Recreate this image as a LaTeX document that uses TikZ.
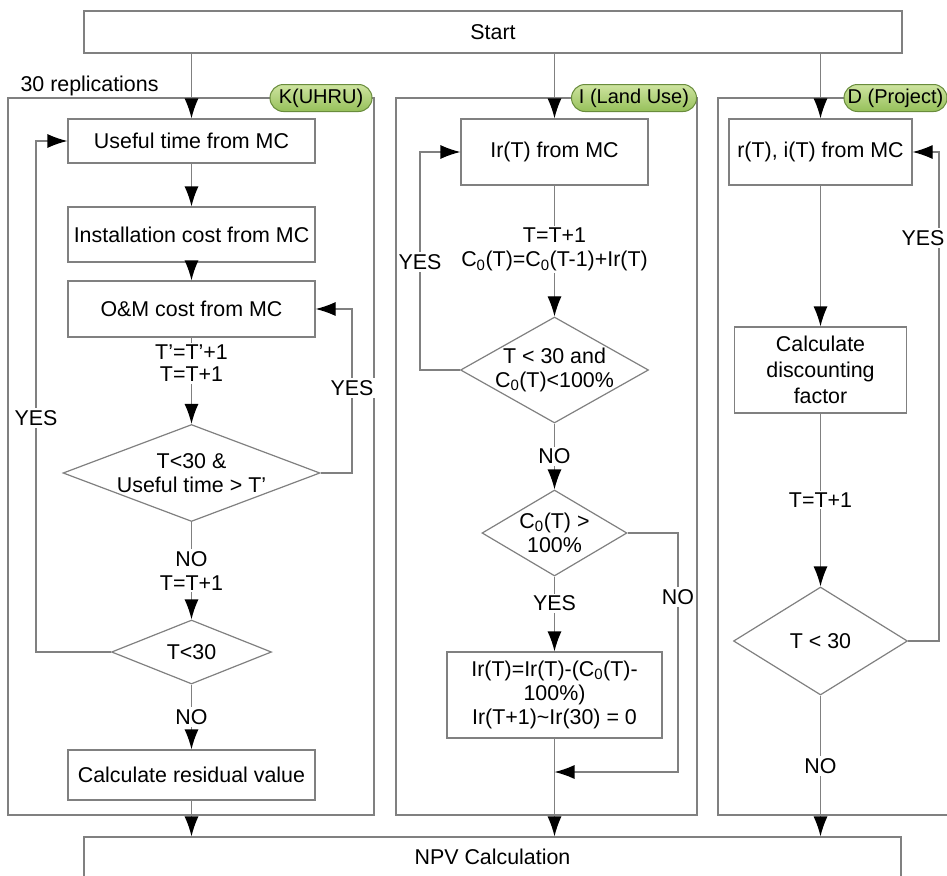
\documentclass[tikz,border=0pt]{standalone}
\usepackage{fontspec}
\setmainfont{Liberation Sans}
\usetikzlibrary{shapes.geometric,arrows.meta}
\definecolor{linegray}{RGB}{128,128,128}
\definecolor{pilltop}{RGB}{206,228,160}
\definecolor{pillbot}{RGB}{150,192,90}
\definecolor{pillline}{RGB}{105,140,60}

\begin{document}
\begin{tikzpicture}[x=1pt,y=-1pt,font=\fontsize{21.4pt}{24pt}\selectfont]
    \tikzstyle{box}=[rectangle,draw=linegray,line width=1.2pt,fill=white,align=center,inner sep=0pt]
    \tikzstyle{decision}=[diamond,draw=linegray,line width=1.2pt,fill=white,align=center,inner sep=-3pt]
    \tikzstyle{frame}=[draw=linegray,line width=1.2pt]
    \tikzstyle{pill}=[rectangle,rounded corners=13.5pt,draw=pillline,line width=1pt,top color=pilltop,bottom color=pillbot,minimum height=27pt,inner sep=0pt,font=\fontsize{20pt}{24pt}\selectfont]
    \tikzstyle{arr}=[draw=linegray,line width=1.2pt,-{Latex[length=20pt,width=14pt,color=black]}]
    \tikzstyle{lbl}=[fill=white,align=center,inner sep=2pt]

    \useasboundingbox (0,0) rectangle (947,875);
    \clip (0,0) rectangle (947,875);

    % the three sub-models
    \foreach \l/\r in {8/374, 396/697, 718/962}
        \draw[frame] (\l,98) rectangle (\r,815);
    \foreach \name/\x/\w/\txt in {K/321/102/{K(UHRU)}, I/634/125/{I (Land Use)}, D/895.5/103/{D (Project)}}
        \node[pill,minimum width=\w pt] (tag-\name) at (\x,98) {\txt};
    \node[anchor=west] (reps) at (17,86) {30 replications};

    \node[box,minimum width=818pt,minimum height=42pt] (start) at (493,32) {Start};
    \node[box,minimum width=817pt,minimum height=40pt] (npv) at (492.5,857) {NPV Calculation};

    % K column
    \node[box,minimum width=247pt,minimum height=44pt] (useful) at (191.5,141) {Useful time from MC};
    \node[box,minimum width=247pt,minimum height=55pt] (install) at (191.5,234.5) {Installation cost from MC};
    \node[box,minimum width=247pt,minimum height=56pt] (om) at (191.5,309) {O\&M cost from MC};
    \node[decision,aspect=2.65,minimum width=257pt,minimum height=97pt] (kcheck) at (191.5,473) {T<30 \&\\Useful time > T'};
    \node[decision,aspect=2.5,minimum width=160pt,minimum height=64pt] (kend) at (191.5,652) {T<30};
    \node[box,minimum width=247pt,minimum height=50pt] (resid) at (191.5,775) {Calculate residual value};

    % I column
    \node[box,minimum width=187pt,minimum height=66pt] (irmc) at (554.5,152) {Ir(T) from MC};
    \node[decision,aspect=1.77,minimum width=188pt,minimum height=106pt] (icheck) at (554.5,370) {T < 30 and\\C\textsubscript{0}(T)<100\%};
    \node[decision,aspect=1.69,minimum width=145pt,minimum height=86pt] (iover) at (554.5,533) {C\textsubscript{0}(T) >\\100\%};
    \node[box,minimum width=215pt,minimum height=86pt] (icut) at (554.5,695) {Ir(T)=Ir(T)-(C\textsubscript{0}(T)-\\100\%)\\Ir(T+1)\textasciitilde Ir(30) = 0};
    \coordinate (imerge) at (554.5,772);

    % D column
    \node[box,minimum width=183pt,minimum height=66pt] (rimc) at (820.5,152) {r(T), i(T) from MC};
    \node[box,minimum width=172pt,minimum height=86pt,font=\fontsize{21.4pt}{26pt}\selectfont] (disc) at (820.5,370) {Calculate\\discounting\\factor};
    \node[decision,aspect=1.61,minimum width=174pt,minimum height=108pt] (dcheck) at (820.5,641) {T < 30};

    \foreach \col in {useful, irmc, rimc}
        \draw[arr] (start.south -| \col.north) -- (\col.north);
    \foreach \from/\to in {useful/install, install/om, rimc/disc}
        \draw[arr] (\from) -- (\to);

    \draw[arr] (om) -- node[lbl,pos=0.3,font=\fontsize{21.4pt}{22pt}\selectfont] {T'=T'+1\\T=T+1} (kcheck);
    \draw[arr] (kcheck.east) -| (352,388) node[lbl] {YES} |- (om.east);
    \draw[arr] (kcheck) -- node[lbl] {NO\\T=T+1} (kend);
    \draw[arr] (kend.west) -| (36,418) node[lbl] {YES} |- (useful.west);
    \draw[arr] (kend) -- node[lbl] {NO} (resid);

    \draw[arr] (irmc) -- node[lbl,pos=0.49] {T=T+1\\C\textsubscript{0}(T)=C\textsubscript{0}(T-1)+Ir(T)} (icheck);
    \draw[arr] (icheck.west) -| (420,262) node[lbl] {YES} |- (irmc.west);
    \draw[arr] (icheck) -- node[lbl] {NO} (iover);
    \draw[arr] (iover) -- node[lbl,pos=0.36] {YES} (icut);
    \draw[arr] (iover.east) -| (678,597) node[lbl] {NO} |- (imerge);

    \draw[arr] (disc) -- node[lbl] {T=T+1} (dcheck);
    \draw[arr] (dcheck.east) -| (939,238) node[lbl,xshift=-16pt] {YES} |- (rimc.east);
    \draw[arr] (dcheck) -- node[lbl] {NO} (dcheck |- npv.north);

    \draw[arr] (resid) -- (resid |- npv.north);
    \draw[arr] (icut) -- (icut |- npv.north);
\end{tikzpicture}
\end{document}
